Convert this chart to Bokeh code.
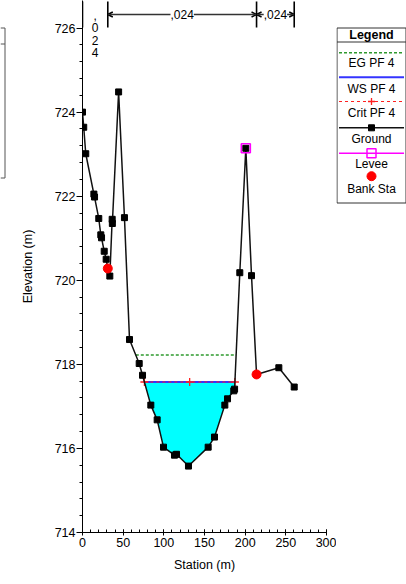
import numpy as np
from bokeh.plotting import figure
from bokeh.layouts import row
from bokeh.models import Range1d, FixedTicker, Arrow, OpenHead, Label
from bokeh.core.properties import value
from bokeh.embed import file_html
from bokeh.resources import INLINE

FONT = "Liberation Sans"

# Ground profile of the cross section
station = [0.0, 1.5, 4.0, 14.0, 14.8, 20.0, 22.5, 23.4, 26.7, 29.1, 31.1, 33.6,
           36.5, 36.7, 44.4, 51.6, 57.8, 69.7, 73.8, 84.0, 91.8, 99.6, 113.1,
           115.6, 130.3, 154.5, 162.3, 175.0, 178.3, 186.0, 187.0, 193.4, 200.8,
           207.8, 214.0, 241.4, 260.3]
elevation = [724.0, 723.64, 723.01, 722.05, 721.98, 721.47, 721.08, 721.01, 720.69,
             720.50, 720.28, 720.10, 721.45, 721.35, 724.48, 721.49, 718.59, 718.02,
             717.74, 717.03, 716.68, 716.03, 715.84, 715.86, 715.58, 716.03, 716.27,
             717.03, 717.18, 717.37, 717.41, 720.18, 723.14, 720.11, 717.76, 717.92,
             717.46]

bank_stations = [31.1, 214.0]
levee_station = [200.8]
levee_elevation = [723.14]

# Profile PF 4 levels (m)
ws_pf4 = 717.58
crit_pf4 = 717.58
eg_pf4 = 718.22

# Manning's n breakpoints and values
n_breaks = [0.0, 31.1, 214.0, 260.3]
n_labels = [",024", ",024", ",024"]

x_ticks = [0, 50, 100, 150, 200, 250, 300]
x_minor = list(range(0, 301, 10))
y_ticks = [714, 716, 718, 720, 722, 724, 726]
y_minor = [714 + 0.4 * k for k in range(31)]

legend_labels = ["EG PF 4", "WS PF 4", "Crit PF 4", "Ground", "Levee", "Bank Sta"]

C_EG = "#2f9a2f"
C_WS = "#3434ff"
C_CRIT = "#ff2020"
C_GROUND = "#111111"
C_LEVEE = "#ff00ff"
C_BANK = "#ff0000"
C_WATER = "#00ffff"

BOTTOM = 52          # shared bottom border of all panels
FRAME_H = 584 - BOTTOM

sta = np.array(station)
elev = np.array(elevation)


def wet_edges(level):
    """Stations where a water level meets the ground on both sides of the thalweg."""
    i0 = int(np.argmin(elev))
    i = i0
    while elev[i] < level:
        i -= 1
    xl = sta[i] + (level - elev[i]) / (elev[i + 1] - elev[i]) * (sta[i + 1] - sta[i])
    j = i0
    while elev[j] < level:
        j += 1
    xr = sta[j - 1] + (level - elev[j - 1]) / (elev[j] - elev[j - 1]) * (sta[j] - sta[j - 1])
    return xl, xr, i, j


ws_l, ws_r, wi, wj = wet_edges(ws_pf4)
eg_l, eg_r, _, _ = wet_edges(eg_pf4)
cr_l, cr_r, _, _ = wet_edges(crit_pf4)

water_x = [ws_l] + list(sta[wi + 1:wj]) + [ws_r]
water_y = [ws_pf4] + list(elev[wi + 1:wj]) + [ws_pf4]

bank_elev = list(np.interp(bank_stations, sta, elev))

# ---------------- main cross-section plot ----------------
p = figure(width=330, height=584, x_range=Range1d(0, 300), y_range=Range1d(714, 726.655),
           output_backend="svg", toolbar_location=None,
           min_border_left=76, min_border_right=10, min_border_top=0, min_border_bottom=BOTTOM)
p.outline_line_color = None
p.grid.visible = False
p.background_fill_color = "white"
p.extra_y_ranges = {"py": Range1d(FRAME_H, 0)}

xa = p.xaxis[0]
ya = p.yaxis[0]
xa.ticker = FixedTicker(ticks=x_ticks, minor_ticks=x_minor)
ya.ticker = FixedTicker(ticks=y_ticks, minor_ticks=y_minor)
xa.axis_label = "Station (m)"
ya.axis_label = "Elevation (m)"
for ax in (xa, ya):
    ax.axis_label_text_font = FONT
    ax.axis_label_text_font_size = "12.5px"
    ax.axis_label_text_font_style = "normal"
    ax.axis_label_text_color = "black"
    ax.major_label_text_font = FONT
    ax.major_label_text_font_size = "12.5px"
    ax.major_label_text_color = "black"
    ax.axis_line_color = "black"
    ax.major_tick_line_color = "black"
    ax.minor_tick_line_color = "black"
xa.major_tick_in = 3
xa.major_tick_out = 3
xa.minor_tick_in = 3
xa.minor_tick_out = 0
xa.major_label_standoff = 2
xa.axis_label_standoff = 8
ya.major_tick_in = 0
ya.major_tick_out = 6
ya.minor_tick_in = 0
ya.minor_tick_out = 3
ya.major_label_standoff = 1
ya.axis_label_standoff = 17

# water below WS
p.patch(water_x, water_y, fill_color=C_WATER, line_color=None)

# energy grade, water surface, critical depth
p.line([eg_l, eg_r], [eg_pf4, eg_pf4], line_color=C_EG, line_width=1.5, line_dash="3 2")
p.line([ws_l, ws_r], [ws_pf4, ws_pf4], line_color=C_WS, line_width=2)
p.line([cr_l, cr_r], [crit_pf4, crit_pf4], line_color=C_CRIT, line_width=1.2, line_dash="3 3")
p.scatter([cr_l, (cr_l + cr_r) / 2, cr_r], [crit_pf4] * 3, marker="cross", size=8,
          line_color=C_CRIT, line_width=1.3)

# ground
p.line(station, elevation, line_color=C_GROUND, line_width=1.5)
p.scatter(station, elevation, marker="square", size=6, fill_color="black", line_color="black")

# levee and bank stations
p.scatter(levee_station, levee_elevation, marker="square", size=9, fill_color=None,
          line_color=C_LEVEE, line_width=1.6)
p.scatter(bank_stations, bank_elev, marker="circle", size=9, fill_color=C_BANK, line_color=C_BANK)

# Manning's n bands along the top
p.segment(x0=n_breaks, y0=[1] * len(n_breaks), x1=n_breaks, y1=[27] * len(n_breaks),
          y_range_name="py", line_color="black", line_width=1.6)
for a, b, lab in zip(n_breaks[:-1], n_breaks[1:], n_labels):
    mid = (a + b) / 2
    if b - a < 35:
        chars = list(lab)
        p.text(x=[mid] * len(chars), y=[15 + 12.3 * k for k in range(len(chars))], text=chars,
               y_range_name="py", text_align="center", text_baseline="middle",
               text_font=value(FONT), text_font_size="12px", text_color="black")
    else:
        p.add_layout(Arrow(x_start=a, x_end=b, y_start=14, y_end=14, y_range_name="py",
                           line_color="#333333", line_width=1.4,
                           start=OpenHead(size=5, line_width=1.5, line_color="black"),
                           end=OpenHead(size=5, line_width=1.5, line_color="black")))
        p.add_layout(Label(x=mid, y=14, y_range_name="py", text=lab, text_align="center",
                           text_baseline="middle", text_font=FONT, text_font_size="12px",
                           text_color="black", background_fill_color="white"))


def side_panel(width, x0):
    f = figure(width=width, height=584, x_range=Range1d(x0, x0 + width),
               y_range=Range1d(FRAME_H, 0), output_backend="svg", toolbar_location=None,
               min_border_left=0, min_border_right=0, min_border_top=0,
               min_border_bottom=BOTTOM, x_axis_location=None, y_axis_location=None)
    f.outline_line_color = None
    f.grid.visible = False
    return f


# ---------------- stub panel on the far left ----------------
lf = side_panel(6, 0)
lf.segment(x0=[4.5, 0, 0, 0], y0=[27.5, 27.5, 43.5, 177.5], x1=[4.5, 4.5, 4.5, 4.5],
           y1=[177.5, 27.5, 43.5, 177.5], line_color="#555555", line_width=1)

# ---------------- legend panel ----------------
lg = side_panel(70, 336)
lg.quad(left=[336.5], right=[405.5], top=[27.5], bottom=[202.5], fill_color="white",
        line_color="#333333", line_width=1)
lg.segment(x0=[336.5], y0=[41.5], x1=[405.5], y1=[41.5], line_color="#333333", line_width=1)
lg.text(x=[371], y=[34.5], text=["Legend"], text_align="center", text_baseline="middle",
        text_font=value(FONT), text_font_size="12.5px", text_font_style="bold", text_color="black")

lx0, lx1, lxm = 338.5, 403.5, 371.0
line_y = [52.3, 76.7, 101.0, 127.3, 152.7, 175.7]
text_y = [62.7, 88.3, 112.7, 138.3, 163.3, 188.3]

lg.line([lx0, lx1], [line_y[0]] * 2, line_color=C_EG, line_width=1.5, line_dash="3 2")
lg.line([lx0, lx1], [line_y[1]] * 2, line_color=C_WS, line_width=2)
lg.line([lx0, lx1], [line_y[2]] * 2, line_color=C_CRIT, line_width=1.2, line_dash="3 3")
lg.scatter([lxm], [line_y[2]], marker="cross", size=7, line_color=C_CRIT, line_width=1.3)
lg.line([lx0, lx1], [line_y[3]] * 2, line_color=C_GROUND, line_width=1.5)
lg.scatter([lxm], [line_y[3]], marker="square", size=6, fill_color="black", line_color="black")
lg.line([lx0, lx1], [line_y[4]] * 2, line_color=C_LEVEE, line_width=1.5)
lg.scatter([lxm], [line_y[4]], marker="square", size=9, fill_color=None, line_color=C_LEVEE,
           line_width=1.5)
lg.scatter([lxm], [line_y[5]], marker="circle", size=9, fill_color=C_BANK, line_color=C_BANK)

lg.text(x=[lxm] * len(legend_labels), y=text_y, text=legend_labels, text_align="center",
        text_baseline="middle", text_font=value(FONT), text_font_size="12px", text_color="black")

layout = row(lf, p, lg)
open("out.html", "w").write(file_html(layout, INLINE))
